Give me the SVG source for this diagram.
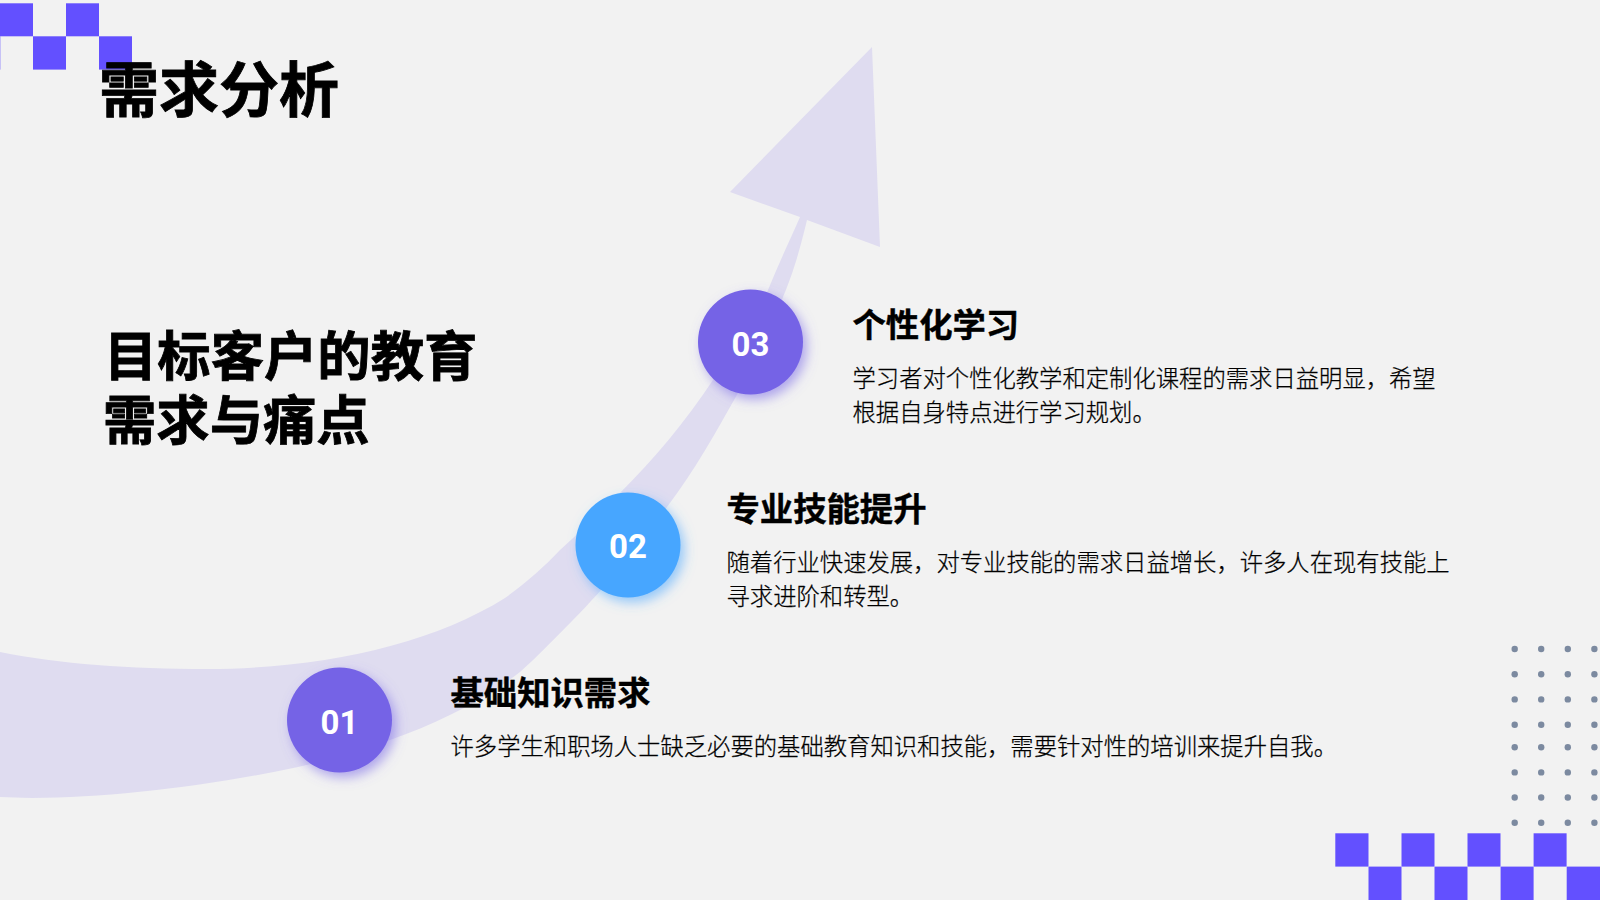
<svg xmlns="http://www.w3.org/2000/svg" width="1600" height="900" viewBox="0 0 1600 900">
<defs>
<style>
.sq{fill:#6350ff}
.dot{fill:#7c8aa0}
.zh{font-family:"Noto Sans CJK SC","Liberation Sans",sans-serif;fill:#000}
.b{font-weight:700;stroke:#000;stroke-width:.8px}
.h{font-size:33.33px;font-weight:700;stroke:#000;stroke-width:.4px}
.t{font-size:23.33px;font-weight:300;stroke:#000;stroke-width:.25px}
.n{font-family:Roboto,"Liberation Sans",sans-serif;font-weight:700;font-size:33px;fill:#fff;text-anchor:middle}
</style>
<filter id="s1" x="-30%" y="-30%" width="170%" height="170%"><feDropShadow dx="4" dy="5" stdDeviation="6" flood-color="#7563e6" flood-opacity=".55"/></filter>
<filter id="s2" x="-30%" y="-30%" width="170%" height="170%"><feDropShadow dx="4" dy="5" stdDeviation="6" flood-color="#47a6ff" flood-opacity=".55"/></filter>
</defs>
<rect width="1600" height="900" fill="#f2f2f2"/>
<g id="arrow"><path fill="#dfdcf0" d="M0 652C60 664 130 669 207 669C320 669 430 645 505 598C525 584 545 566 560 550C580 532 600 513 620 493C655 458 685 422 713 380C735 350 752 325 768 290C778 265 790 240 800 217L730 192L872 47L880 247L807 220C797 262 790 280 783 297C771 332 757 362 738 393C716 432 695 470 667 507C640 545 605 588 573 620C555 638 538 656 520 672C480 703 435 724 390 740C360 751 330 760 298 767C210 786 110 798 32 798C20 798 10 797 0 797Z"/></g>
<g id="checker-top"><rect class="sq" x="0" y="3.3" width="33" height="33"/><rect class="sq" x="66" y="3.3" width="33" height="33"/><rect class="sq" x="-33" y="36.3" width="33.3" height="33.3"/><rect class="sq" x="33" y="36.3" width="33" height="33.3"/><rect class="sq" x="99" y="36.3" width="33" height="33.3"/></g>
<g id="checker-bottom"><rect class="sq" x="1335.3" y="833.3" width="33.2" height="33.3"/><rect class="sq" x="1401.5" y="833.3" width="33" height="33.3"/><rect class="sq" x="1467.5" y="833.3" width="33" height="33.3"/><rect class="sq" x="1533.6" y="833.3" width="33" height="33.3"/><rect class="sq" x="1368.5" y="866.6" width="33" height="33.4"/><rect class="sq" x="1434.5" y="866.6" width="33" height="33.4"/><rect class="sq" x="1500.6" y="866.6" width="33" height="33.4"/><rect class="sq" x="1566.7" y="866.6" width="33.3" height="33.4"/></g>
<g id="dots">
<g><circle class="dot" cx="1514.7" cy="649" r="3.2"/><circle class="dot" cx="1541.2" cy="649" r="3.2"/><circle class="dot" cx="1567.8" cy="649" r="3.2"/><circle class="dot" cx="1594.4" cy="649" r="3.2"/></g>
<g><circle class="dot" cx="1514.7" cy="674.3" r="3.2"/><circle class="dot" cx="1541.2" cy="674.3" r="3.2"/><circle class="dot" cx="1567.8" cy="674.3" r="3.2"/><circle class="dot" cx="1594.4" cy="674.3" r="3.2"/></g>
<g><circle class="dot" cx="1514.7" cy="699.4" r="3.2"/><circle class="dot" cx="1541.2" cy="699.4" r="3.2"/><circle class="dot" cx="1567.8" cy="699.4" r="3.2"/><circle class="dot" cx="1594.4" cy="699.4" r="3.2"/></g>
<g><circle class="dot" cx="1514.7" cy="724.7" r="3.2"/><circle class="dot" cx="1541.2" cy="724.7" r="3.2"/><circle class="dot" cx="1567.8" cy="724.7" r="3.2"/><circle class="dot" cx="1594.4" cy="724.7" r="3.2"/></g>
<g><circle class="dot" cx="1514.7" cy="747.3" r="3.2"/><circle class="dot" cx="1541.2" cy="747.3" r="3.2"/><circle class="dot" cx="1567.8" cy="747.3" r="3.2"/><circle class="dot" cx="1594.4" cy="747.3" r="3.2"/></g>
<g><circle class="dot" cx="1514.7" cy="772.4" r="3.2"/><circle class="dot" cx="1541.2" cy="772.4" r="3.2"/><circle class="dot" cx="1567.8" cy="772.4" r="3.2"/><circle class="dot" cx="1594.4" cy="772.4" r="3.2"/></g>
<g><circle class="dot" cx="1514.7" cy="797.5" r="3.2"/><circle class="dot" cx="1541.2" cy="797.5" r="3.2"/><circle class="dot" cx="1567.8" cy="797.5" r="3.2"/><circle class="dot" cx="1594.4" cy="797.5" r="3.2"/></g>
<g><circle class="dot" cx="1514.7" cy="822.8" r="3.2"/><circle class="dot" cx="1541.2" cy="822.8" r="3.2"/><circle class="dot" cx="1567.8" cy="822.8" r="3.2"/><circle class="dot" cx="1594.4" cy="822.8" r="3.2"/></g>
</g>
<text id="title" class="zh b" x="99" y="112" font-size="60">需求分析</text>
<g id="subtitle" class="zh b" font-size="53.33"><text x="104" y="375.5">目标客户的教育</text><text x="103" y="439.5">需求与痛点</text></g>
<g id="node-01"><circle cx="339.5" cy="720" r="52.5" fill="#7563e6" filter="url(#s1)"/><text class="n" x="339.5" y="734">01</text><text class="zh h" x="450.5" y="705">基础知识需求</text><text class="zh t" x="450.5" y="755">许多学生和职场人士缺乏必要的基础教育知识和技能，需要针对性的培训来提升自我。</text></g>
<g id="node-02"><circle cx="628" cy="545" r="52.5" fill="#47a6ff" filter="url(#s2)"/><text class="n" x="628" y="558">02</text><text class="zh h" x="726.5" y="521">专业技能提升</text><text class="zh t" x="726.5" y="571">随着行业快速发展，对专业技能的需求日益增长，许多人在现有技能上</text><text class="zh t" x="726.5" y="605">寻求进阶和转型。</text></g>
<g id="node-03"><circle cx="750.5" cy="342" r="52.5" fill="#7563e6" filter="url(#s1)"/><text class="n" x="750.5" y="356">03</text><text class="zh h" x="852.5" y="337">个性化学习</text><text class="zh t" x="852.5" y="387">学习者对个性化教学和定制化课程的需求日益明显，希望</text><text class="zh t" x="852.5" y="420.5">根据自身特点进行学习规划。</text></g>
</svg>
